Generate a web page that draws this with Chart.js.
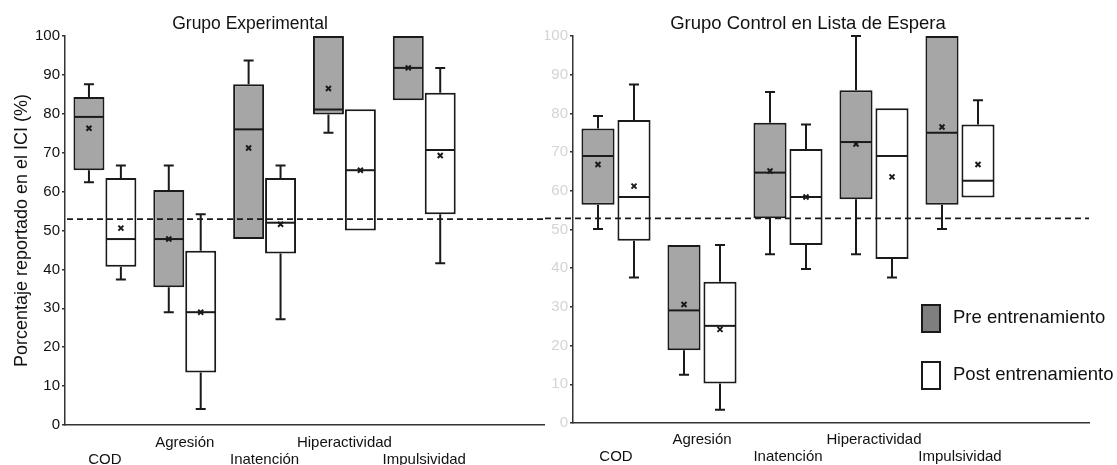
<!DOCTYPE html>
<html>
<head>
<meta charset="utf-8">
<script src="https://cdn.jsdelivr.net/npm/chart.js@4.4.1/dist/chart.umd.min.js"></script>
<style>
  html, body { margin: 0; padding: 0; background: #fff; }
  #wrap { position: relative; width: 1117px; height: 465px; }
  .panel { position: absolute; top: 0; height: 465px; }
  #left { left: 0; width: 545px; }
  #right { left: 545px; width: 572px; }
</style>
</head>
<body>
<div id="wrap">
  <div class="panel" id="left"><canvas id="cLeft"></canvas></div>
  <div class="panel" id="right"><canvas id="cRight"></canvas></div>
</div>
<script>
// categories (last slot is empty, the axis runs on past Impulsividad)
const categories = ["COD", "Agresión", "Inatención", "Hiperactividad", "Impulsividad", ""];
const yTicks = [0, 10, 20, 30, 40, 50, 60, 70, 80, 90, 100];
const cutoff = 52.9;

// Grupo Experimental
const expPreQ1   = [65.5, 35.4, 47.8, 79.8, 83.5];
const expPreQ3   = [84.3, 60.4, 87.6, 100, 100];
const expPreMed  = [79.2, 47.8, 76.0, 81.1, 91.8];
const expPreMean = [76.3, 47.8, 71.2, 86.5, 91.8];
const expPreMin  = [62.4, 29.0, null, 75.1, null];
const expPreMax  = [87.6, 66.7, 93.7, null, null];

const expPostQ1   = [40.7, 13.5, 44.1, 50.0, 54.2];
const expPostQ3   = [63.5, 44.8, 63.5, 81.2, 85.4];
const expPostMed  = [47.8, 29.0, 52.0, 65.5, 70.7];
const expPostMean = [50.6, 29.0, 51.6, 65.5, 69.3];
const expPostMin  = [37.4, 4.1, 27.2, null, 41.6];
const expPostMax  = [66.7, 54.2, 66.7, null, 91.8];

// Grupo Control en Lista de Espera
const ctlPreQ1   = [56.4, 18.8, 52.9, 57.8, 56.4];
const ctlPreQ3   = [76.1, 46.0, 77.6, 86.0, 100];
const ctlPreMed  = [69.0, 29.1, 64.7, 72.6, 75.0];
const ctlPreMean = [66.8, 30.6, 65.1, 72.1, 76.5];
const ctlPreMin  = [50.1, 12.5, 43.6, 43.6, 50.1];
const ctlPreMax  = [79.3, null, 85.5, 100, null];

const ctlPostQ1   = [47.1, 10.2, 46.0, 42.4, 58.3];
const ctlPostQ3   = [78.3, 36.5, 70.8, 81.3, 77.1];
const ctlPostMed  = [58.4, 25.1, 58.4, 69.0, 62.6];
const ctlPostMean = [61.2, 24.2, 58.4, 63.6, 66.8];
const ctlPostMin  = [37.6, 3.4, 39.8, 37.6, null];
const ctlPostMax  = [87.5, 46.0, 77.1, null, 83.4];

const FONT = '"Liberation Sans", Arial, Helvetica, sans-serif';
const INK = '#1a1a1a';
const PRE_FILL = '#a6a6a6';

function pairs(lo, hi){
    return lo.map((v, i) => [v, hi[i]]);
}

// whiskers, medians and means on top of the floating bars
const boxExtras = {
    id: 'boxExtras',
    afterDatasetsDraw(chart){
        const ctx = chart.ctx;
        const y = chart.scales.y;
        chart.data.datasets.forEach((ds, di) => {
            const meta = chart.getDatasetMeta(di);
            const st = ds.stats;
            meta.data.forEach((bar, i) => {
                const x = bar.x, half = bar.width / 2;
                const q1 = y.getPixelForValue(ds.data[i][0]);
                const q3 = y.getPixelForValue(ds.data[i][1]);
                ctx.save();
                ctx.strokeStyle = INK;
                ctx.lineWidth = 2;
                ctx.lineCap = 'butt';
                // whiskers
                if(st.max[i] != null){
                    const p = y.getPixelForValue(st.max[i]);
                    ctx.beginPath();
                    ctx.moveTo(x, q3); ctx.lineTo(x, p);
                    ctx.moveTo(x - 5, p); ctx.lineTo(x + 5, p);
                    ctx.stroke();
                }
                if(st.min[i] != null){
                    const p = y.getPixelForValue(st.min[i]);
                    ctx.beginPath();
                    ctx.moveTo(x, q1); ctx.lineTo(x, p);
                    ctx.moveTo(x - 5, p); ctx.lineTo(x + 5, p);
                    ctx.stroke();
                }
                // median
                const m = y.getPixelForValue(st.med[i]);
                ctx.beginPath();
                ctx.moveTo(x - half + 1, m); ctx.lineTo(x + half - 1, m);
                ctx.stroke();
                // mean marker
                const mm = y.getPixelForValue(st.mean[i]);
                ctx.lineWidth = 2;
                ctx.beginPath();
                ctx.moveTo(x - 2.5, mm - 2.5); ctx.lineTo(x + 2.5, mm + 2.5);
                ctx.moveTo(x + 2.5, mm - 2.5); ctx.lineTo(x - 2.5, mm + 2.5);
                ctx.stroke();
                ctx.restore();
            });
        });
    }
};

// panel title, cutoff line, legend
const panelDecor = {
    id: 'panelDecor',
    afterDraw(chart, args, opts){
        const ctx = chart.ctx;
        const area = chart.chartArea;
        ctx.save();
        ctx.fillStyle = '#111';
        ctx.font = opts.titleSize + 'px ' + FONT;
        ctx.textAlign = 'center';
        ctx.textBaseline = 'middle';
        ctx.fillText(opts.title, opts.titleX, 24);

        const yc = chart.scales.y.getPixelForValue(cutoff);
        ctx.strokeStyle = INK;
        ctx.lineWidth = 1.7;
        ctx.setLineDash([6, 4]);
        ctx.beginPath();
        ctx.moveTo(opts.dashFrom === 'area' ? area.left + 2 : 0, yc);
        ctx.lineTo(opts.dashTo === 'area' ? area.right : chart.width, yc);
        ctx.stroke();
        ctx.setLineDash([]);

        if(opts.legend){
            const lg = opts.legend;
            const items = [
                {label: 'Pre entrenamiento', fill: '#7f7f7f', top: lg.y},
                {label: 'Post entrenamiento', fill: '#ffffff', top: lg.y + lg.gap}
            ];
            ctx.font = '18.5px ' + FONT;
            ctx.textAlign = 'left';
            items.forEach(it => {
                ctx.fillStyle = it.fill;
                ctx.fillRect(lg.x, it.top, 20, 29);
                ctx.strokeStyle = INK;
                ctx.lineWidth = 2;
                ctx.strokeRect(lg.x + 1, it.top + 1, 18, 27);
                ctx.fillStyle = '#111';
                ctx.fillText(it.label, lg.x + 32, it.top + 14);
            });
        }
        ctx.restore();
    }
};

function stagger(i){
    const name = categories[i];
    if(!name) return '';
    return i % 2 === 0 ? ['', name] : [name, ''];
}

function makeChart(canvasId, pre, post, cfg){
    return new Chart(document.getElementById(canvasId), {
        type: 'bar',
        data: {
            labels: categories,
            datasets: [
                {
                    label: 'Pre entrenamiento',
                    data: pairs(pre.q1, pre.q3),
                    stats: pre,
                    backgroundColor: PRE_FILL,
                    borderColor: INK,
                    borderWidth: 2,
                    borderSkipped: false,
                    barPercentage: cfg.barPct,
                    categoryPercentage: cfg.catPct
                },
                {
                    label: 'Post entrenamiento',
                    data: pairs(post.q1, post.q3),
                    stats: post,
                    backgroundColor: '#ffffff',
                    borderColor: INK,
                    borderWidth: 2,
                    borderSkipped: false,
                    barPercentage: cfg.barPct,
                    categoryPercentage: cfg.catPct
                }
            ]
        },
        options: {
            responsive: true,
            maintainAspectRatio: false,
            animation: false,
            layout: {padding: {left: 0, top: 36, right: cfg.padRight, bottom: 0}},
            plugins: {
                legend: {display: false},
                tooltip: {enabled: false},
                panelDecor: cfg.decor
            },
            scales: {
                x: {
                    grid: {display: false, drawTicks: false},
                    border: {display: true, color: '#333', width: 1.5},
                    afterFit: s => { s.height = cfg.xHeight; },
                    ticks: {
                        autoSkip: false,
                        maxRotation: 0,
                        padding: cfg.xPad,
                        color: '#111',
                        font: {family: FONT, size: 15, lineHeight: 1.13},
                        callback: (v, i) => stagger(i)
                    }
                },
                y: {
                    min: 0,
                    max: 100,
                    afterBuildTicks: s => { s.ticks = yTicks.map(v => ({value: v})); },
                    grid: {display: true, drawOnChartArea: false, drawTicks: true, tickLength: 3, color: '#333', lineWidth: 1.5},
                    border: {display: true, color: '#333', width: 1.5},
                    afterFit: s => { s.width = cfg.yWidth; },
                    title: {
                        display: !!cfg.yTitle,
                        text: cfg.yTitle || '',
                        color: '#111',
                        font: {family: FONT, size: 18},
                        padding: {top: 11, bottom: 0}
                    },
                    ticks: {
                        padding: 2,
                        color: cfg.tickColor,
                        font: {family: FONT, size: 15}
                    }
                }
            }
        },
        plugins: [boxExtras, panelDecor]
    });
}

makeChart('cLeft',
    {q1: expPreQ1, q3: expPreQ3, med: expPreMed, mean: expPreMean, min: expPreMin, max: expPreMax},
    {q1: expPostQ1, q3: expPostQ3, med: expPostMed, mean: expPostMean, min: expPostMin, max: expPostMax},
    {
        barPct: 0.97, catPct: 0.8, padRight: 1, xHeight: 40, xPad: 9, yWidth: 65,
        yTitle: 'Porcentaje reportado en el ICI (%)', tickColor: '#111',
        decor: {title: 'Grupo Experimental', titleX: 250, titleSize: 17.5, dashFrom: 'area', dashTo: 'edge'}
    });

makeChart('cRight',
    {q1: ctlPreQ1, q3: ctlPreQ3, med: ctlPreMed, mean: ctlPreMean, min: ctlPreMin, max: ctlPreMax},
    {q1: ctlPostQ1, q3: ctlPostQ3, med: ctlPostMed, mean: ctlPostMean, min: ctlPostMin, max: ctlPostMax},
    {
        barPct: 0.92, catPct: 0.837, padRight: 28, xHeight: 42, xPad: 8, yWidth: 28,
        yTitle: null, tickColor: '#d4d4d4',
        decor: {title: 'Grupo Control en Lista de Espera', titleX: 263, titleSize: 18.5, dashFrom: 'edge', dashTo: 'area',
                legend: {x: 376, y: 304, gap: 57}}
    });
</script>
</body>
</html>
